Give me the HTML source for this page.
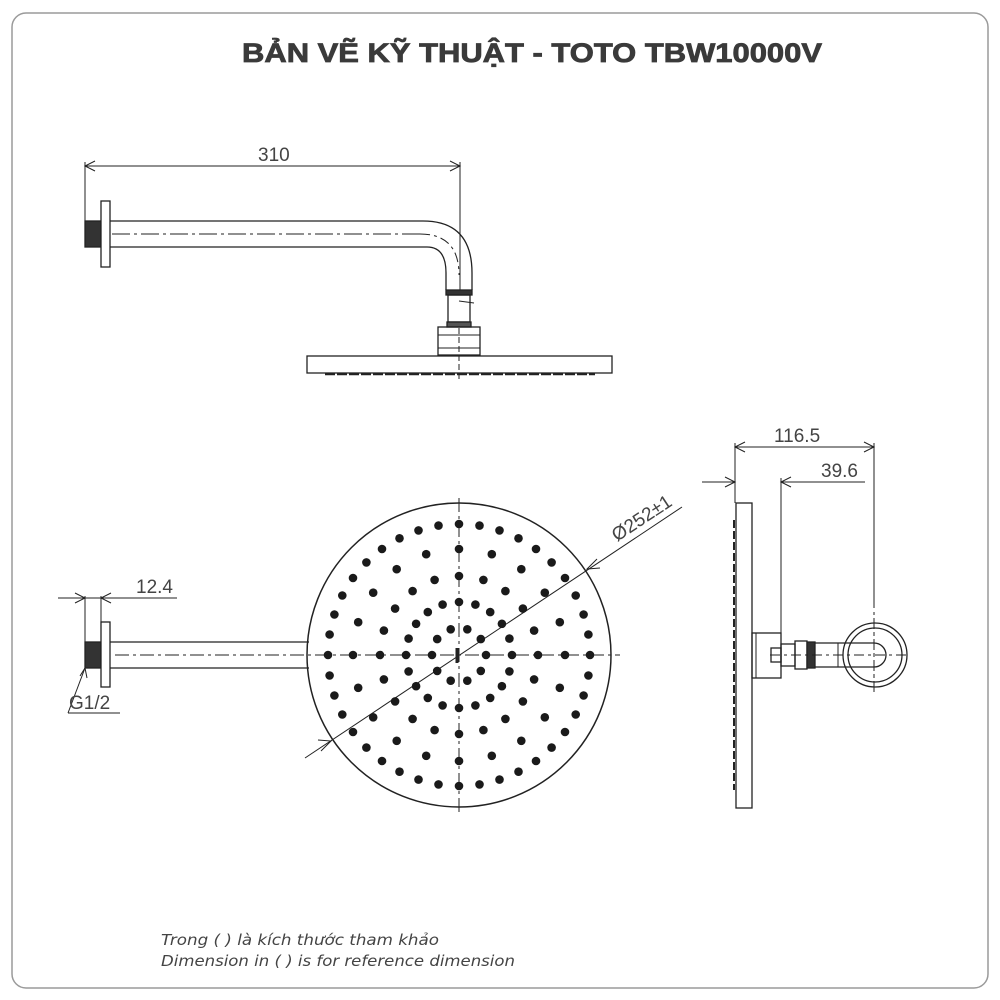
<!DOCTYPE html>
<html><head><meta charset="utf-8"><style>
html,body{margin:0;padding:0;background:#fff;}
svg{display:block}
</style></head><body>
<svg id="s" width="1000" height="1000" viewBox="0 0 1000 1000" xmlns="http://www.w3.org/2000/svg" font-family="Liberation Sans, Arial, sans-serif">
<rect x="12" y="13" width="976" height="975" rx="14" fill="#fff" stroke="#9a9a9a" stroke-width="1.5"/>
<text x="242" y="62" font-size="27" font-weight="bold" fill="#3a3a3a" stroke="#3a3a3a" stroke-width="0.8" textLength="580" lengthAdjust="spacingAndGlyphs">BẢN VẼ KỸ THUẬT - TOTO TBW10000V</text>

<g stroke="#222" fill="none" stroke-width="1.3">
<!-- TOP VIEW -->
<line x1="85" y1="166" x2="460" y2="166" stroke-width="1"/>
<polyline points="95,161 85,166 95,171" stroke-width="1"/>
<polyline points="450,161 460,166 450,171" stroke-width="1"/>
<line x1="85" y1="162" x2="85" y2="222" stroke-width="1"/>
<line x1="460" y1="162" x2="460" y2="290" stroke-width="1"/>
<rect x="85" y="221" width="16" height="26" fill="#333"/>
<rect x="101" y="201" width="9" height="66" fill="#fff"/>
<path d="M110,221 L423,221 Q472,221 472,273 L472,290"/>
<path d="M110,247 L427,247 Q446,247 446,273 L446,290"/>
<line x1="112" y1="234" x2="420" y2="234" stroke-dasharray="18,4,3,4" stroke-width="1"/>
<path d="M420,234 Q459,234 459,275" stroke-dasharray="10,4,3,4" stroke-width="1"/>
<rect x="446" y="290" width="26" height="5" fill="#333"/>
<rect x="448" y="295" width="22" height="27"/>
<line x1="459" y1="301" x2="474" y2="303" stroke-width="1"/>
<rect x="447" y="322" width="24" height="5" fill="#555"/>
<rect x="438" y="327" width="42" height="28"/>
<line x1="438" y1="335" x2="480" y2="335" stroke-width="1"/>
<line x1="438" y1="348" x2="480" y2="348" stroke-width="1"/>
<rect x="307" y="356" width="305" height="17"/>
<line x1="325" y1="374" x2="595" y2="374" stroke-width="2.5" stroke-dasharray="10,2"/>
<line x1="459" y1="328" x2="459" y2="380" stroke-dasharray="6,3" stroke-width="1"/>

<!-- FRONT VIEW -->
<line x1="58" y1="598" x2="177" y2="598" stroke-width="1"/>
<polyline points="75,593 85,598 75,603" stroke-width="1"/>
<polyline points="111,593 101,598 111,603" stroke-width="1"/>
<line x1="85" y1="596" x2="85" y2="642" stroke-width="1"/>
<line x1="101" y1="596" x2="101" y2="622" stroke-width="1"/>
<rect x="85" y="642" width="16" height="26" fill="#333"/>
<rect x="101" y="622" width="9" height="65" fill="#fff"/>
<line x1="110" y1="642" x2="309" y2="642"/>
<line x1="110" y1="668" x2="309" y2="668"/>
<line x1="68" y1="713" x2="85" y2="668" stroke-width="1"/>
<polyline points="80,676 85,668 87,678" stroke-width="1"/>
<line x1="68" y1="713" x2="120" y2="713" stroke-width="1"/>
<circle cx="459" cy="655" r="152" stroke-width="1.5"/>
<line x1="115" y1="655" x2="620" y2="655" stroke-dasharray="14,4,3,4" stroke-width="1"/>
<line x1="459" y1="498" x2="459" y2="815" stroke-dasharray="14,4,3,4" stroke-width="1"/>
<line x1="305" y1="758" x2="682" y2="507" stroke-width="1"/>
<polyline points="318,740 331,741 321,751" stroke-width="1"/>
<polyline points="600,568 587,569 597,559" stroke-width="1"/>
<line x1="457" y1="648" x2="457" y2="663" stroke-width="3"/>
<g id="dots" fill="#1a1a1a" stroke="none"></g>

<!-- SIDE VIEW -->
<line x1="735" y1="447" x2="874" y2="447" stroke-width="1"/>
<polyline points="745,442 735,447 745,452" stroke-width="1"/>
<polyline points="864,442 874,447 864,452" stroke-width="1"/>
<line x1="735" y1="443" x2="735" y2="503" stroke-width="1"/>
<line x1="874" y1="443" x2="874" y2="598" stroke-width="1"/>
<line x1="874" y1="598" x2="874" y2="695" stroke-dasharray="10,4,3,4" stroke-width="1"/>
<line x1="702" y1="482" x2="735" y2="482" stroke-width="1"/>
<polyline points="725,477 735,482 725,487" stroke-width="1"/>
<line x1="781" y1="482" x2="865" y2="482" stroke-width="1"/>
<polyline points="791,477 781,482 791,487" stroke-width="1"/>
<line x1="781" y1="478" x2="781" y2="633" stroke-width="1"/>
<rect x="736" y="503" width="16" height="305"/>
<line x1="734" y1="520" x2="734" y2="790" stroke-width="2" stroke-dasharray="8,3"/>
<rect x="752" y="633" width="29" height="45"/>
<line x1="756" y1="633" x2="756" y2="678" stroke-width="1"/>
<rect x="771" y="648" width="10" height="14"/>
<rect x="781" y="644" width="14" height="22"/>
<rect x="795" y="641" width="12" height="28"/>
<rect x="807" y="642" width="8" height="26" fill="#333"/>
<path d="M815,643 L874,643 A12,12 0 0 1 874,667 L815,667"/>
<line x1="838" y1="643" x2="838" y2="667" stroke-width="1"/>
<circle cx="875" cy="655" r="32"/>
<circle cx="875" cy="655" r="27"/>
<line x1="770" y1="655" x2="910" y2="655" stroke-dasharray="10,4,3,4" stroke-width="1"/>
<line x1="874" y1="618" x2="874" y2="695" stroke-dasharray="10,4,3,4" stroke-width="1"/>
</g>

<g fill="#444" font-size="19">
<text x="258" y="161">310</text>
<text x="136" y="593">12.4</text>
<text x="69" y="709">G1/2</text>
<text x="774" y="442">116.5</text>
<text x="821" y="477">39.6</text>
<text x="0" y="0" transform="translate(617,542) rotate(-33.5)">Ø252±1</text>
</g>
<g fill="#444" font-size="15" font-style="italic" font-family="DejaVu Sans, Liberation Sans, sans-serif">
<text x="161" y="945" textLength="278" lengthAdjust="spacingAndGlyphs">Trong ( ) là kích thước tham khảo</text>
<text x="161" y="966" textLength="354" lengthAdjust="spacingAndGlyphs">Dimension in ( ) is for reference dimension</text>
</g>
</svg>
<script>
(function(){
var g=document.getElementById('dots'),cx=459,cy=655,ns='http://www.w3.org/2000/svg';
function dot(r,a){var c=document.createElementNS(ns,'circle');c.setAttribute('cx',(cx+r*Math.sin(a)).toFixed(1));c.setAttribute('cy',(cy-r*Math.cos(a)).toFixed(1));c.setAttribute('r','4.3');g.appendChild(c);}
var i;
for(i=0;i<40;i++)dot(131,i*Math.PI/20);
[106,79,53].forEach(function(r){for(var j=0;j<20;j++)dot(r,j*Math.PI/10);});
for(i=0;i<10;i++)dot(27,(18+36*i)*Math.PI/180);
})();
</script>
</body></html>
